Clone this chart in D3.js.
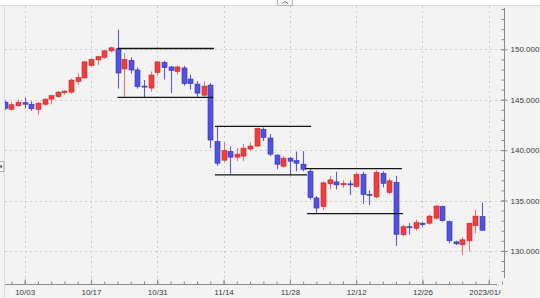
<!DOCTYPE html>
<html>
<head>
<meta charset="utf-8">
<script src="https://cdn.jsdelivr.net/npm/d3@7"></script>
<style>
  body { margin: 0; background: #f3f3f3; }
  svg { display: block; font-family: Lato, "DejaVu Sans", sans-serif; }
</style>
</head>
<body>
<svg width="540" height="298"></svg>
<script>
// USD/JPY daily, 2022/09/28 - 2023/01/06 (weekdays)
var opens  = [144.75,144.05,144.4, 144.7,144.55,144.05,144.55,145.05, 145.3,145.7,145.75,146.8,147.15,
              148.4,148.95,149.2,149.85,150.05, 148.05,148.9,147.95,146.35,146.15, 147.7,148.7,148.25,147.8,148.15,
              147.05,146.55,145.45,146.45,140.85, 139.0,139.85,139.3,139.4,140.1, 140.4,142.05,141.2,139.5,138.4,
              139.2,138.95,138.6,137.9,135.25, 134.4,136.65,136.85,136.55,136.65, 136.4,137.6,135.6,135.35,137.7,
              135.8,136.8,131.6,132.4,132.25, 132.75,132.75,133.25,134.4,132.9, 130.9,130.6,131.0,132.5,133.4];
var highs  = [144.9,144.75,145.0, 145.2,144.85,144.8,145.15,145.45, 145.85,145.95,147.1,147.6,148.85,
              149.1,149.35,149.9,150.25,151.95, 149.6,149.2,148.2,146.95,147.8, 148.85,148.85,148.35,148.4,148.35,
              147.5,146.85,146.8,146.65,142.3, 140.8,140.35,140.2,140.6,140.75, 142.25,142.25,141.6,139.6,139.4,
              139.3,139.85,139.9,138.2,135.45, 136.9,137.45,137.85,137.0,137.0, 137.75,137.85,136.0,138.0,137.9,
              137.2,137.45,132.6,132.75,133.1, 132.85,133.6,134.5,134.5,133.0, 131.0,131.35,132.8,134.05,134.8];
var lows   = [144.0,143.95,144.3, 144.15,143.9,143.5,144.4,144.55, 145.2,145.5,145.6,146.5,147.1,
              148.3,148.45,149.05,149.7,146.1, 145.3,147.6,146.1,145.15,145.8, 147.4,147.0,145.65,147.5,146.4,
              146.0,145.3,145.15,140.2,138.45, 138.75,137.65,138.9,138.9,139.9, 140.3,140.9,139.4,138.1,138.25,
              137.5,137.9,137.9,135.1,133.75, 134.05,136.1,136.1,136.25,135.55, 136.3,134.65,134.55,135.2,136.3,
              135.6,130.5,131.45,131.6,132.0, 132.4,132.6,133.1,132.9,130.75, 130.6,129.6,129.95,131.75,132.0];
var closes = [144.15,144.5,144.75, 144.55,144.1,144.65,145.05,145.4, 145.75,145.85,146.95,147.2,148.75,
              149.0,149.27,149.85,150.15,147.65, 149.0,147.95,146.3,146.25,147.45, 148.75,148.2,147.9,148.25,146.6,
              146.6,145.65,146.35,141.0,138.7, 139.95,139.3,139.6,140.2,140.4, 142.15,141.25,139.6,138.6,139.2,
              138.9,138.7,138.1,135.3,134.25, 136.75,137.05,136.55,136.7,136.55, 137.6,135.6,135.5,137.8,136.7,
              136.95,131.65,132.4,132.3,132.8, 132.6,133.45,134.45,133.0,131.0, 130.7,131.1,132.75,133.45,132.05];

var dates = d3.timeDay.range(new Date(2022, 8, 28), new Date(2023, 0, 7))
  .filter(function(d) { return d.getDay() % 6 !== 0; });
var firstIdx = -3;  // 9/28 is three sessions before 10/03

var tickIdx = [0, 10, 20, 30, 40, 50, 60, 70];
var tickLabels = ["10/03", "10/17", "10/31", "11/14", "11/28", "12/12", "12/26", "2023/01/09"];
var priceTicks = [130, 135, 140, 145, 150];

// range lines drawn on the chart: start/end session index and price
var lineFrom  = [14.0, 14.0, 28.7, 28.7, 42.3, 42.6];
var lineTo    = [28.55, 28.45, 43.2, 42.6, 56.9, 57.05];
var linePrice = [150.08, 145.24, 142.35, 137.55, 138.17, 133.7];

var svg = d3.select("svg"),
    plotL = 5, plotR = 504, plotT = 6, plotB = 284;

var x = d3.scaleLinear().domain([-2.97, 72.3]).range([plotL, plotR]);
var y = d3.scaleLinear().domain([130, 150]).range([250.9, 49.3]);

var candles = opens.map(function(o, i) {
  return { i: i + firstIdx, date: dates[i], o: o, h: highs[i], l: lows[i], c: closes[i] };
});

// header strip
svg.append("rect").attr("width", 540).attr("height", plotT).attr("fill", "#fff");
svg.append("line").attr("x1", 0).attr("x2", 540).attr("y1", plotT - 0.5).attr("y2", plotT - 0.5)
  .attr("stroke", "#d9d9d9");
svg.append("rect").attr("x", 277.5).attr("y", -1).attr("width", 15).attr("height", 6.5)
  .attr("fill", "#f7f7f7").attr("stroke", "#b8b8b8");
svg.append("path").attr("d", "M282,3.5L285,1.5L288,3.5").attr("fill", "none").attr("stroke", "#777");
svg.append("line").attr("x1", 4.5).attr("x2", 4.5).attr("y1", plotT).attr("y2", 298).attr("stroke", "#dcdcdc");
svg.append("rect").attr("x", -1).attr("y", 161.5).attr("width", 5).attr("height", 10)
  .attr("fill", "#fafafa").attr("stroke", "#aaa");
svg.append("path").attr("d", "M0.5,164.5L2.5,166.5L0.5,168.5Z").attr("fill", "#333");

// grid
var grid = svg.append("g").attr("stroke", "#cccccc").attr("stroke-dasharray", "2,3");
grid.selectAll(".gx").data(tickIdx).enter().append("line")
  .attr("x1", function(d) { return Math.round(x(d)) + 0.5; })
  .attr("x2", function(d) { return Math.round(x(d)) + 0.5; })
  .attr("y1", plotT).attr("y2", plotB);
grid.selectAll(".gy").data(priceTicks).enter().append("line")
  .attr("x1", plotL).attr("x2", plotR)
  .attr("y1", function(d) { return Math.round(y(d)) + 0.5; })
  .attr("y2", function(d) { return Math.round(y(d)) + 0.5; });

svg.append("clipPath").attr("id", "plot").append("rect")
  .attr("x", plotL).attr("y", plotT).attr("width", plotR - plotL).attr("height", plotB - plotT);

var g = svg.append("g").attr("clip-path", "url(#plot)");

var bw = 5;
var cg = g.selectAll(".candle").data(candles).enter().append("g");
cg.append("line")
  .attr("x1", function(d) { return Math.round(x(d.i)) + 0.5; })
  .attr("x2", function(d) { return Math.round(x(d.i)) + 0.5; })
  .attr("y1", function(d) { return y(d.h); })
  .attr("y2", function(d) { return y(d.l); })
  .attr("stroke", function(d) { return d.c >= d.o ? "#e07575" : "#5b5bd2"; })
  .attr("stroke-width", 1.1);
cg.append("rect")
  .attr("x", function(d) { return Math.round(x(d.i)) + 0.5 - bw / 2; })
  .attr("y", function(d) { return y(Math.max(d.o, d.c)); })
  .attr("width", bw)
  .attr("height", function(d) { return Math.max(1, Math.abs(y(d.o) - y(d.c))); })
  .attr("fill", function(d) { return d.c >= d.o ? "#f03e3e" : "#5151e6"; })
  .attr("stroke", function(d) { return d.c >= d.o ? "#c82a2a" : "#3434b0"; })
  .attr("stroke-width", 0.6);

// range lines
g.selectAll(".rng").data(linePrice).enter().append("line")
  .attr("x1", function(d, i) { return x(lineFrom[i]); })
  .attr("x2", function(d, i) { return x(lineTo[i]); })
  .attr("y1", function(d) { return y(d); })
  .attr("y2", function(d) { return y(d); })
  .attr("stroke", "#151515").attr("stroke-width", 1.3);

// y axis (right)
svg.append("line").attr("x1", plotR + 0.5).attr("x2", plotR + 0.5).attr("y1", 8).attr("y2", 278)
  .attr("stroke", "#8a8a8a");
var yMinor = svg.append("g").attr("transform", "translate(" + (plotR + 0.5) + ",0)")
  .call(d3.axisLeft(y).tickValues(d3.range(128, 155, 1)).tickSize(3).tickFormat(""));
var yAxis = svg.append("g").attr("transform", "translate(" + (plotR + 0.5) + ",0)")
  .call(d3.axisRight(y).tickValues(priceTicks).tickSize(3).tickPadding(3).tickFormat(d3.format(".3f")));
[yMinor, yAxis].forEach(function(a) {
  a.select(".domain").remove();
  a.selectAll("line").attr("stroke", "#8a8a8a");
});
yAxis.selectAll("line").attr("x1", -3);
yAxis.selectAll("text").attr("fill", "#3a3a3a").style("font-size", "8px");

// x axis (bottom)
svg.append("line").attr("x1", plotL).attr("x2", 497).attr("y1", plotB + 0.5).attr("y2", plotB + 0.5)
  .attr("stroke", "#8a8a8a");
var xMinor = svg.append("g").attr("transform", "translate(0," + (plotB + 0.5) + ")")
  .call(d3.axisBottom(x).tickValues(d3.range(-2, 73, 2)).tickSize(-3).tickFormat(""));
svg.append("clipPath").attr("id", "xclip").append("rect")
  .attr("x", 0).attr("y", -10).attr("width", 501).attr("height", 30);
var xAxis = svg.append("g").attr("transform", "translate(0," + (plotB + 0.5) + ")")
  .attr("clip-path", "url(#xclip)")
  .call(d3.axisBottom(x).tickValues(tickIdx).tickSize(-5).tickPadding(5)
    .tickFormat(function(d, i) { return tickLabels[i]; }));
[xMinor, xAxis].forEach(function(a) {
  a.select(".domain").remove();
  a.selectAll("line").attr("stroke", "#8a8a8a");
});
xAxis.selectAll("text").attr("fill", "#3a3a3a").style("font-size", "8px");
</script>
</body>
</html>
